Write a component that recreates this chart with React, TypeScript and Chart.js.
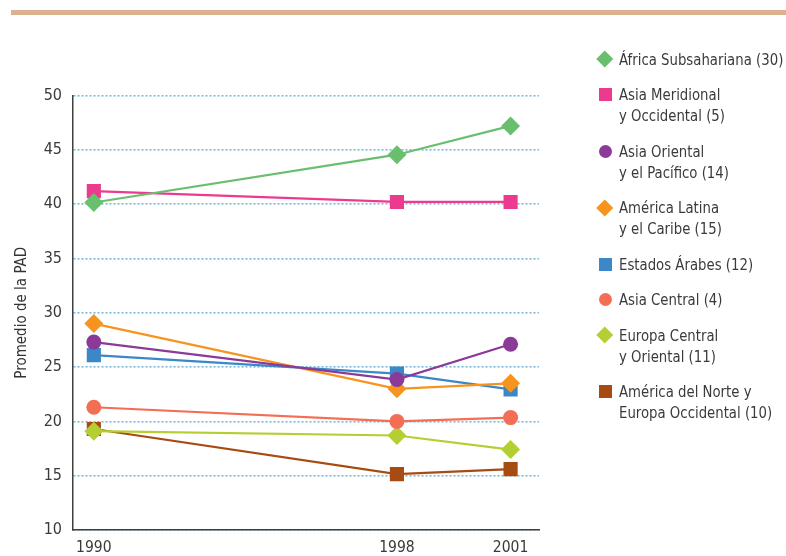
import React, { useEffect, useRef } from "react";
import { Chart, registerables } from "chart.js";

Chart.register(...registerables);

const years = [1990, 1998, 2001];
const yTickValues = [10, 15, 20, 25, 30, 35, 40, 45, 50];

const seriesNames = [
  ["África Subsahariana (30)"],
  ["Asia Meridional", "y Occidental (5)"],
  ["Asia Oriental", "y el Pacífico (14)"],
  ["América Latina", "y el Caribe (15)"],
  ["Estados Árabes (12)"],
  ["Asia Central (4)"],
  ["Europa Central", "y Oriental (11)"],
  ["América del Norte y", "Europa Occidental (10)"],
];

const africaSub = [40.15, 44.55, 47.2];
const asiaMeridional = [41.2, 40.2, 40.2];
const asiaOriental = [27.3, 23.85, 27.1];
const americaLatina = [29.0, 23.0, 23.5];
const estadosArabes = [26.1, 24.4, 22.95];
const asiaCentral = [21.3, 20.0, 20.35];
const europaCentral = [19.1, 18.7, 17.4];
const americaNorte = [19.3, 15.15, 15.6];

const seriesValues = [
  africaSub,
  asiaMeridional,
  asiaOriental,
  americaLatina,
  estadosArabes,
  asiaCentral,
  europaCentral,
  americaNorte,
];

const colors = ["#6abf6f", "#ec3b8f", "#8b3a97", "#f7941d", "#3b87c8", "#f26f55", "#b4cf33", "#a64b12"];
const shapes = ["rectRot", "rect", "circle", "rectRot", "rect", "circle", "rectRot", "rect"];

const FONT = '"DejaVu Sans Condensed", "Liberation Sans Narrow", "Roboto", sans-serif';

function radiusFor(shape: string) {
  if (shape === "rect") return 10;
  if (shape === "rectRot") return 9.5;
  return 7.5;
}

function Marker({ shape, color }: { shape: string; color: string }) {
  const base: React.CSSProperties = { position: "absolute", background: color };
  if (shape === "rectRot") {
    return <div style={{ ...base, width: 11.5, height: 11.5, left: 0, top: 4.7, transform: "rotate(45deg)" }} />;
  }
  if (shape === "circle") {
    return <div style={{ ...base, width: 13, height: 13, left: -0.5, top: 4 }} className="c" />;
  }
  return <div style={{ ...base, width: 13, height: 13, left: -0.5, top: 4 }} />;
}

export default function App() {
  const ref = useRef<HTMLCanvasElement | null>(null);

  useEffect(() => {
    if (!ref.current) return;
    const chart = new Chart(ref.current, {
      type: "line",
      data: {
        datasets: seriesValues.map((vals, i) => ({
          label: seriesNames[i].join(" "),
          data: vals.map((v, j) => ({ x: years[j], y: v })),
          borderColor: colors[i],
          backgroundColor: colors[i],
          pointBackgroundColor: colors[i],
          pointBorderColor: colors[i],
          pointBorderWidth: 0,
          pointStyle: shapes[i] as any,
          pointRadius: radiusFor(shapes[i]),
          borderWidth: 2.2,
          tension: 0,
          fill: false,
        })),
      },
      options: {
        animation: false,
        responsive: false,
        maintainAspectRatio: false,
        layout: { padding: { left: 0, top: 95.5, right: 247, bottom: 0 } },
        plugins: { legend: { display: false }, tooltip: { enabled: false } },
        scales: {
          x: {
            type: "linear",
            min: 1989.45,
            max: 2001.75,
            afterBuildTicks: (scale: any) => {
              scale.ticks = years.map((v) => ({ value: v }));
            },
            afterFit: (scale: any) => {
              scale.height = 26;
            },
            grid: { display: false, drawTicks: false },
            border: { display: true, color: "#3f3f3f", width: 1.5 },
            ticks: {
              padding: 9,
              color: "#3a3a3a",
              font: { family: FONT, size: 15.5 },
              callback: (v: any) => String(v),
              maxRotation: 0,
            },
          },
          y: {
            min: 10,
            max: 50,
            afterBuildTicks: (scale: any) => {
              scale.ticks = yTickValues.map((v) => ({ value: v }));
            },
            afterFit: (scale: any) => {
              scale.width = 73;
            },
            grid: { color: "#79b8da", lineWidth: 1.6, drawTicks: false },
            border: { display: true, color: "#3f3f3f", width: 1.5, dash: [2, 2] },
            ticks: {
              padding: 11,
              color: "#3a3a3a",
              font: { family: FONT, size: 16 },
            },
            title: {
              display: true,
              text: "Promedio de la PAD",
              color: "#333",
              font: { family: FONT, size: 15 },
              padding: { top: 13, bottom: 0 },
            },
          },
        },
      },
    });
    return () => chart.destroy();
  }, []);

  return (
    <div style={{ position: "relative", width: 786, height: 556, fontFamily: FONT, overflow: "hidden" }}>
      <style>{`body{margin:0} .c{border-radius:50%}`}</style>
      <div style={{ position: "absolute", left: 11, top: 10, width: 775, height: 5, background: "#ddb092" }} />
      <canvas ref={ref} width={786} height={556} style={{ position: "absolute", left: 0, top: 0, width: 786, height: 556 }} />
      <div
        style={{
          position: "absolute",
          left: 599,
          top: 48.5,
          display: "flex",
          flexDirection: "column",
          gap: 14.5,
        }}
      >
        {seriesNames.map((lines, i) => (
          <div
            key={i}
            style={{
              position: "relative",
              paddingLeft: 20,
              fontSize: 16.5,
              lineHeight: "21px",
              color: "#3a3a3a",
              whiteSpace: "nowrap",
            }}
          >
            <Marker shape={shapes[i]} color={colors[i]} />
            {lines.map((l, k) => (
              <div key={k} style={{ transform: "scaleX(0.895)", transformOrigin: "left center" }}>
                {l}
              </div>
            ))}
          </div>
        ))}
      </div>
    </div>
  );
}
